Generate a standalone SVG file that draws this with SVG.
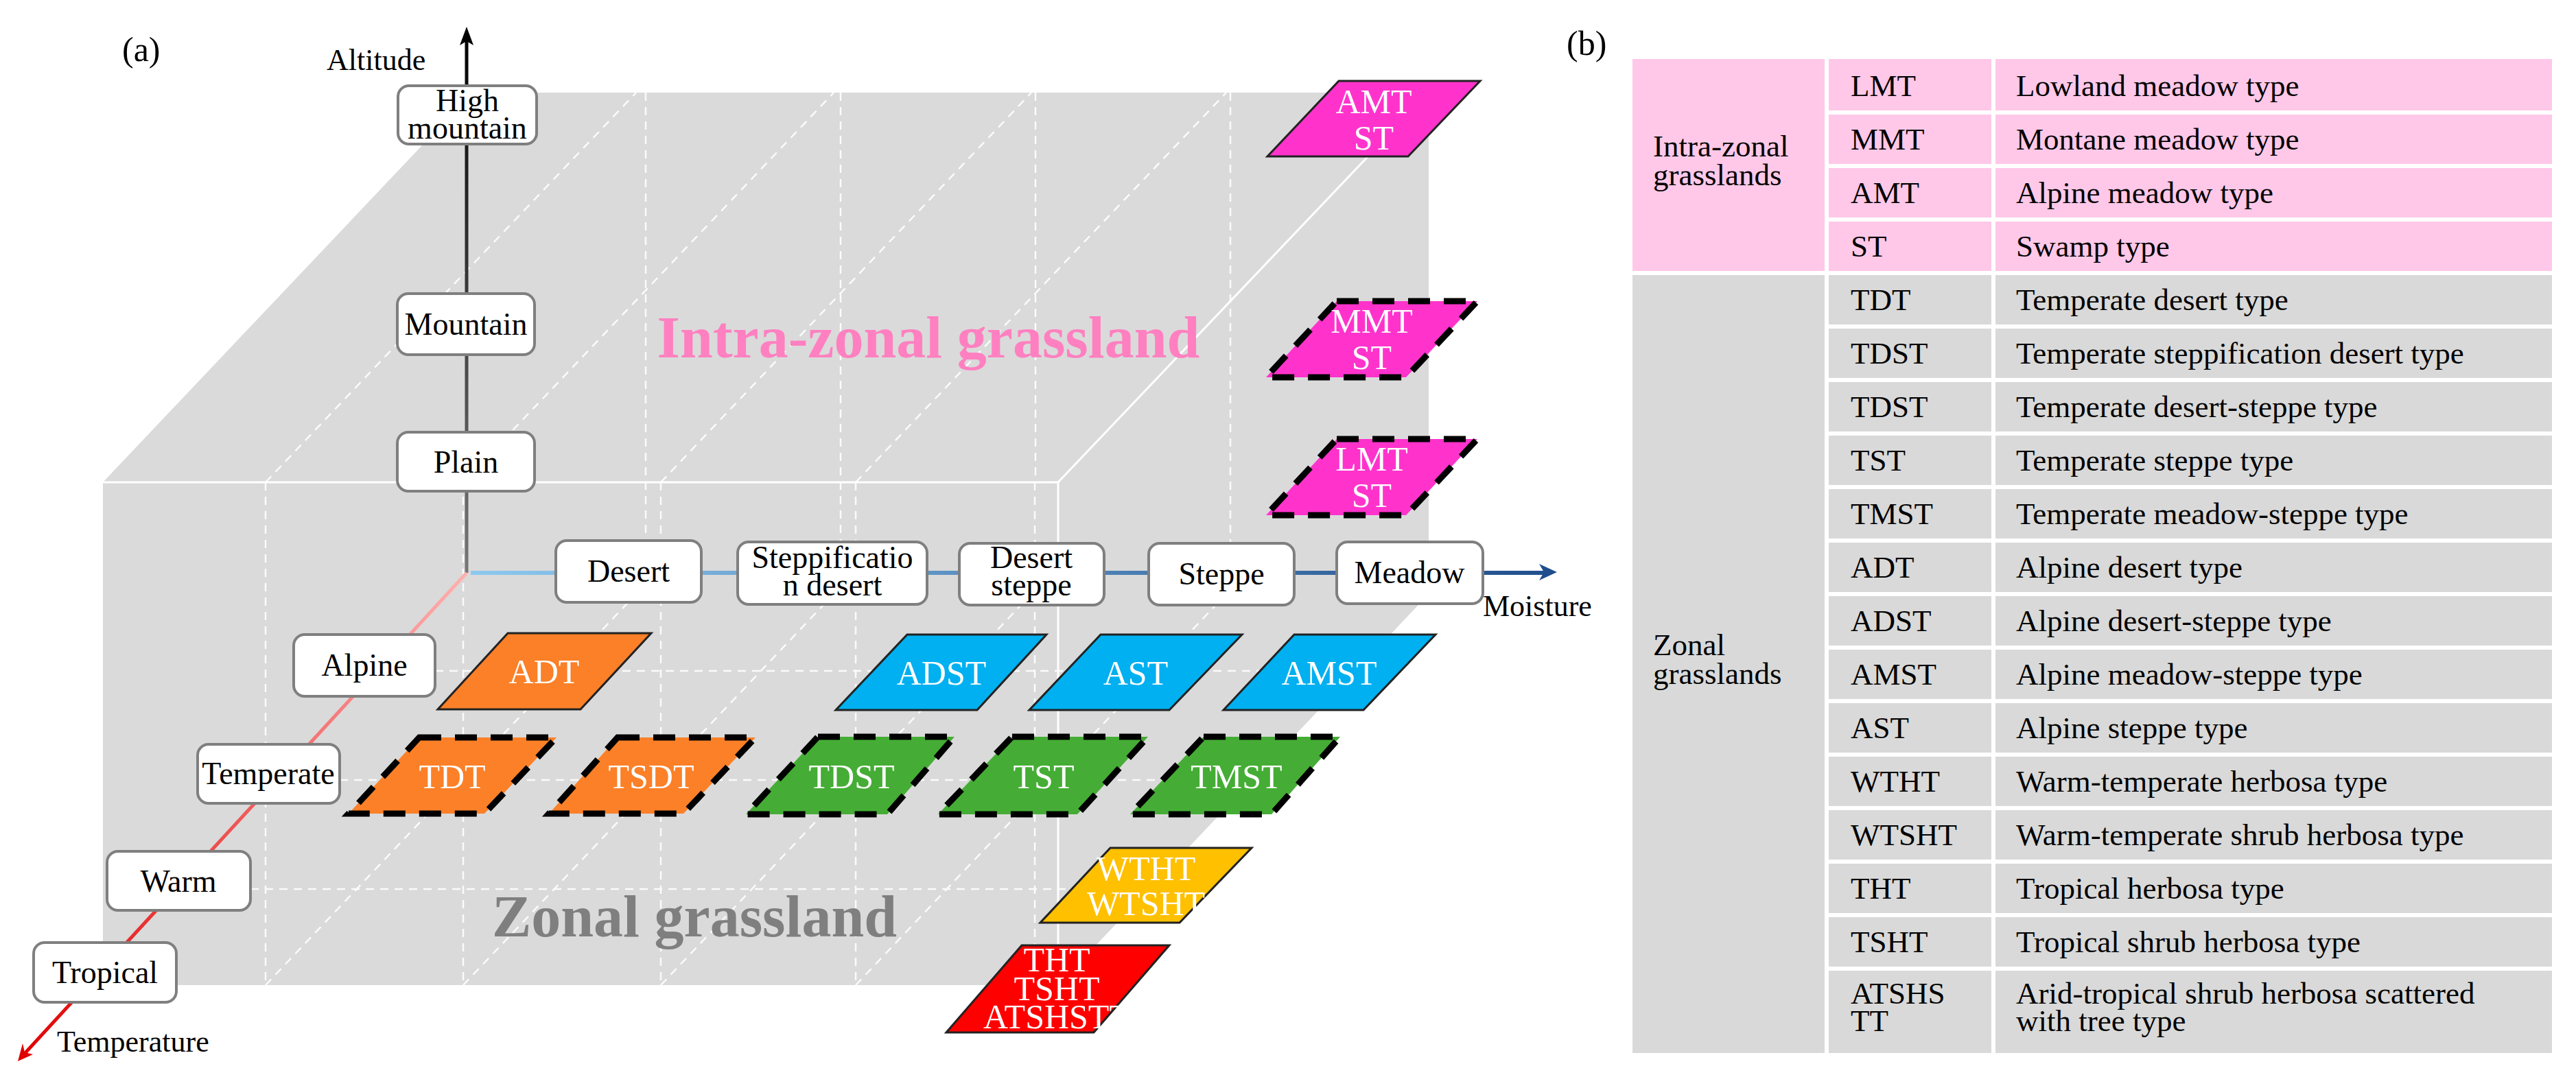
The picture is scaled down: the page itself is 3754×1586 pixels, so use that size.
<svg xmlns="http://www.w3.org/2000/svg" width="3754" height="1586" viewBox="0 0 3754 1586" font-family="'Liberation Serif', 'Times New Roman', serif">
<defs>
<style>
text{font-family:'Liberation Serif','Times New Roman',serif;}
.box{fill:#fff;stroke:#7f7f7f;stroke-width:4;}
.bt{font-size:46px;text-anchor:middle;fill:#000;}
.pt{font-size:50px;text-anchor:middle;fill:#fff;}
.dash{stroke:#fff;stroke-width:2.5;stroke-dasharray:12 9;fill:none;opacity:0.9;}
.edge{stroke:#fff;stroke-width:3;fill:none;}
.solid{stroke:#222;stroke-width:3;}
.dsh{stroke:#000;stroke-width:9;stroke-dasharray:32 20;}
.tt{font-size:45px;fill:#000;}
</style>
<linearGradient id="gRed" x1="680" y1="835" x2="26" y2="1547" gradientUnits="userSpaceOnUse"><stop offset="0" stop-color="#ffb0b0"/><stop offset="1" stop-color="#e00000"/></linearGradient>
<linearGradient id="gBlue" x1="686" y1="835" x2="2269" y2="835" gradientUnits="userSpaceOnUse"><stop offset="0" stop-color="#8ec8ee"/><stop offset="1" stop-color="#1f4e8c"/></linearGradient>
<linearGradient id="gGray" x1="0" y1="835" x2="0" y2="39" gradientUnits="userSpaceOnUse"><stop offset="0" stop-color="#777"/><stop offset="1" stop-color="#000"/></linearGradient>
</defs>
<rect width="3754" height="1586" fill="#fff"/>

<g id="cube">
<polygon points="150,703 688,135 2082,135 1542,703" fill="#dadada"/>
<polygon points="1542,703 2082,135 2082,866 1542,1436" fill="#dadada"/>
<rect x="150" y="703" width="1392" height="733" fill="#dadada"/>
<g class="dash">
<line x1="387" y1="703" x2="927" y2="135"/><line x1="675" y1="703" x2="1215" y2="135"/><line x1="963" y1="703" x2="1503" y2="135"/><line x1="1247" y1="703" x2="1787" y2="135"/>
<line x1="941" y1="135" x2="941" y2="866"/><line x1="1225" y1="135" x2="1225" y2="866"/><line x1="1509" y1="135" x2="1509" y2="703"/><line x1="1793" y1="135" x2="1793" y2="866"/>
<line x1="387" y1="703" x2="387" y2="1436"/><line x1="675" y1="703" x2="675" y2="1436"/><line x1="963" y1="703" x2="963" y2="1436"/><line x1="1247" y1="703" x2="1247" y2="1436"/><line x1="1508" y1="703" x2="1508" y2="1436"/>
<line x1="387" y1="1436" x2="927" y2="866"/><line x1="675" y1="1436" x2="1215" y2="866"/><line x1="963" y1="1436" x2="1503" y2="866"/><line x1="1247" y1="1436" x2="1787" y2="866"/>
<line x1="634" y1="978" x2="1900" y2="978"/><line x1="495" y1="1137" x2="1780" y2="1137"/><line x1="365" y1="1296" x2="1660" y2="1296"/>
</g>
<polyline class="edge" points="150,703 1542,703 1542,1436"/>
<line class="edge" x1="1542" y1="703" x2="2082" y2="135"/>
</g>

<g id="connectors">
<line x1="680" y1="835" x2="680" y2="60" stroke="url(#gGray)" stroke-width="5"/>
<path d="M680,39 L670,66 L680,60 L690,66 z" fill="#000"/>
<line x1="680" y1="835" x2="32" y2="1540" stroke="url(#gRed)" stroke-width="5"/>
<path d="M26,1547 L33,1521 L36,1534 L48,1537 z" fill="#e00000"/>
<line x1="686" y1="835" x2="2250" y2="835" stroke="url(#gBlue)" stroke-width="6"/>
<path d="M2269,834 L2243,822 L2250,834 L2243,846 z" fill="#1f4e8c"/>
</g>

<text x="178" y="89" font-size="50">(a)</text>
<text x="476" y="102" font-size="44">Altitude</text>
<text x="83" y="1533" font-size="44">Temperature</text>
<text x="2161" y="898" font-size="44">Moisture</text>
<text x="1353" y="521" font-size="86" font-weight="bold" fill="#ff80c0" text-anchor="middle">Intra-zonal grassland</text>
<text x="1012" y="1365" font-size="86" font-weight="bold" fill="#7f7f7f" text-anchor="middle">Zonal grassland</text>

<g id="n-highmountain"><rect class="box" x="580" y="125" width="202" height="85" rx="16"/><text class="bt" x="681" y="162">High</text><text class="bt" x="681" y="202">mountain</text></g>
<g id="n-mountain"><rect class="box" x="579" y="428" width="200" height="89" rx="16"/><text class="bt" x="679" y="488">Mountain</text></g>
<g id="n-plain"><rect class="box" x="579" y="630" width="200" height="86" rx="16"/><text class="bt" x="679" y="689">Plain</text></g>
<g id="n-alpine"><rect class="box" x="428" y="925" width="206" height="90" rx="16"/><text class="bt" x="531" y="985">Alpine</text></g>
<g id="n-temperate"><rect class="box" x="288" y="1085" width="207" height="86" rx="16"/><text class="bt" x="391" y="1143">Temperate</text></g>
<g id="n-warm"><rect class="box" x="156" y="1241" width="209" height="86" rx="16"/><text class="bt" x="260" y="1300">Warm</text></g>
<g id="n-tropical"><rect class="box" x="49" y="1374" width="208" height="87" rx="16"/><text class="bt" x="153" y="1433">Tropical</text></g>
<g id="n-desert"><rect class="box" x="810" y="788" width="212" height="90" rx="16"/><text class="bt" x="916" y="848">Desert</text></g>
<g id="n-steppdesert"><rect class="box" x="1075" y="790" width="276" height="91" rx="16"/><text class="bt" x="1213" y="828">Steppificatio</text><text class="bt" x="1213" y="868">n desert</text></g>
<g id="n-desertsteppe"><rect class="box" x="1398" y="792" width="211" height="90" rx="16"/><text class="bt" x="1503" y="828">Desert</text><text class="bt" x="1503" y="868">steppe</text></g>
<g id="n-steppe"><rect class="box" x="1674" y="792" width="212" height="90" rx="16"/><text class="bt" x="1780" y="852">Steppe</text></g>
<g id="n-meadow"><rect class="box" x="1948" y="790" width="213" height="90" rx="16"/><text class="bt" x="2054" y="850">Meadow</text></g>

<g id="p-amt"><polygon points="1951,118 2157,118 2052,228 1847,228" fill="#ff33cc" class="solid"/><text class="pt" x="2002" y="165">AMT</text><text class="pt" x="2002" y="218">ST</text></g>
<g id="p-mmt"><polygon points="1948,439 2153,439 2049,550 1845,550" fill="#ff33cc" class="dsh"/><text class="pt" x="1999" y="485">MMT</text><text class="pt" x="1999" y="538">ST</text></g>
<g id="p-lmt"><polygon points="1948,640 2153,640 2049,751 1845,751" fill="#ff33cc" class="dsh"/><text class="pt" x="1999" y="686">LMT</text><text class="pt" x="1999" y="739">ST</text></g>
<g id="p-adt"><polygon points="740,923 949,923 846,1034 638,1034" fill="#fb8028" class="solid"/><text class="pt" x="793" y="996">ADT</text></g>
<g id="p-adst"><polygon points="1322,925 1525,925 1424,1035 1218,1035" fill="#00b0f0" class="solid"/><text class="pt" x="1372" y="998">ADST</text></g>
<g id="p-ast"><polygon points="1604,925 1810,925 1704,1035 1500,1035" fill="#00b0f0" class="solid"/><text class="pt" x="1655" y="998">AST</text></g>
<g id="p-amst"><polygon points="1886,925 2092,925 1987,1035 1783,1035" fill="#00b0f0" class="solid"/><text class="pt" x="1937" y="998">AMST</text></g>
<g id="p-tdt"><polygon points="611,1075 811,1075 706,1186 508,1186" fill="#fb8028" class="dsh"/><text class="pt" x="659" y="1149">TDT</text></g>
<g id="p-tsdt"><polygon points="900,1075 1101,1075 996,1186 800,1186" fill="#fb8028" class="dsh"/><text class="pt" x="949" y="1149">TSDT</text></g>
<g id="p-tdst"><polygon points="1192,1074 1391,1074 1293,1187 1087,1187" fill="#45ad35" class="dsh"/><text class="pt" x="1241" y="1149">TDST</text></g>
<g id="p-tst"><polygon points="1475,1074 1673,1074 1570,1187 1367,1187" fill="#45ad35" class="dsh"/><text class="pt" x="1521" y="1149">TST</text></g>
<g id="p-tmst"><polygon points="1754,1074 1953,1074 1853,1187 1647,1187" fill="#45ad35" class="dsh"/><text class="pt" x="1802" y="1149">TMST</text></g>
<g id="p-wtht"><polygon points="1618,1236 1824,1236 1719,1345 1516,1345" fill="#ffc000" class="solid"/><text class="pt" x="1670" y="1283" font-size="46">WTHT</text><text class="pt" x="1670" y="1334" font-size="46">WTSHT</text></g>
<g id="p-tht"><polygon points="1489,1378 1704,1378 1594,1505 1379,1505" fill="#ff0000" class="solid"/><text class="pt" x="1540" y="1416" font-size="42">THT</text><text class="pt" x="1540" y="1458" font-size="42">TSHT</text><text class="pt" x="1540" y="1499" font-size="42">ATSHSTT</text></g>

<g id="table">
<text x="2283" y="80" font-size="50">(b)</text>
<rect x="2379" y="86" width="1340" height="312" fill="#ffc8e8"/>
<rect x="2379" y="398" width="1340" height="1137" fill="#d9d9d9"/>
<g stroke="#fff" stroke-width="6">
<line x1="2662" y1="86" x2="2662" y2="1535"/><line x1="2905" y1="86" x2="2905" y2="1535"/>
<line x1="2379" y1="398" x2="3719" y2="398"/>
<line x1="2662" y1="164" x2="3719" y2="164"/><line x1="2662" y1="242" x2="3719" y2="242"/><line x1="2662" y1="320" x2="3719" y2="320"/>
<line x1="2662" y1="476" x2="3719" y2="476"/><line x1="2662" y1="554" x2="3719" y2="554"/><line x1="2662" y1="632" x2="3719" y2="632"/><line x1="2662" y1="710" x2="3719" y2="710"/><line x1="2662" y1="788" x2="3719" y2="788"/><line x1="2662" y1="866" x2="3719" y2="866"/><line x1="2662" y1="944" x2="3719" y2="944"/><line x1="2662" y1="1022" x2="3719" y2="1022"/><line x1="2662" y1="1100" x2="3719" y2="1100"/><line x1="2662" y1="1178" x2="3719" y2="1178"/><line x1="2662" y1="1256" x2="3719" y2="1256"/><line x1="2662" y1="1334" x2="3719" y2="1334"/><line x1="2662" y1="1412" x2="3719" y2="1412"/>
</g>
<text class="tt" x="2409" y="228">Intra-zonal</text><text class="tt" x="2409" y="270">grasslands</text>
<text class="tt" x="2409" y="955">Zonal</text><text class="tt" x="2409" y="997">grasslands</text>
<g class="tt">
<text x="2697" y="140">LMT</text><text x="2938" y="140">Lowland meadow type</text>
<text x="2697" y="218">MMT</text><text x="2938" y="218">Montane meadow type</text>
<text x="2697" y="296">AMT</text><text x="2938" y="296">Alpine meadow type</text>
<text x="2697" y="374">ST</text><text x="2938" y="374">Swamp type</text>
<text x="2697" y="452">TDT</text><text x="2938" y="452">Temperate desert type</text>
<text x="2697" y="530">TDST</text><text x="2938" y="530">Temperate steppification desert type</text>
<text x="2697" y="608">TDST</text><text x="2938" y="608">Temperate desert-steppe type</text>
<text x="2697" y="686">TST</text><text x="2938" y="686">Temperate steppe type</text>
<text x="2697" y="764">TMST</text><text x="2938" y="764">Temperate meadow-steppe type</text>
<text x="2697" y="842">ADT</text><text x="2938" y="842">Alpine desert type</text>
<text x="2697" y="920">ADST</text><text x="2938" y="920">Alpine desert-steppe type</text>
<text x="2697" y="998">AMST</text><text x="2938" y="998">Alpine meadow-steppe type</text>
<text x="2697" y="1076">AST</text><text x="2938" y="1076">Alpine steppe type</text>
<text x="2697" y="1154">WTHT</text><text x="2938" y="1154">Warm-temperate herbosa type</text>
<text x="2697" y="1232">WTSHT</text><text x="2938" y="1232">Warm-temperate shrub herbosa type</text>
<text x="2697" y="1310">THT</text><text x="2938" y="1310">Tropical herbosa type</text>
<text x="2697" y="1388">TSHT</text><text x="2938" y="1388">Tropical shrub herbosa type</text>
<text x="2697" y="1463">ATSHS</text><text x="2938" y="1463">Arid-tropical shrub herbosa scattered</text>
<text x="2697" y="1503">TT</text><text x="2938" y="1503">with tree type</text>
</g>
</g>
</svg>
